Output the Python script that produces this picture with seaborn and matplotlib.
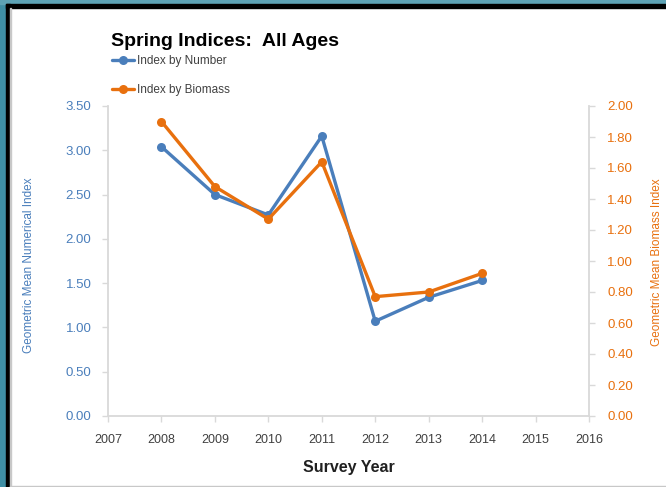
import matplotlib
matplotlib.use("Agg")
import matplotlib.pyplot as plt
import matplotlib.patches as mpatches
import seaborn as sns
import pandas as pd

years = [2008, 2009, 2010, 2011, 2012, 2013, 2014]
index_by_number = [3.04, 2.50, 2.27, 3.16, 1.07, 1.34, 1.53]
index_by_biomass = [1.90, 1.48, 1.27, 1.64, 0.77, 0.80, 0.92]
x_ticks = list(range(2007, 2017))
x_tick_labels = ["2007", "2008", "2009", "2010", "2011", "2012", "2013", "2014", "2015", "2016"]
left_ticks = [0.0, 0.5, 1.0, 1.5, 2.0, 2.5, 3.0, 3.5]
right_ticks = [0.0, 0.2, 0.4, 0.6, 0.8, 1.0, 1.2, 1.4, 1.6, 1.8, 2.0]

sns.set_theme(style="white")
plt.rcParams['font.family'] = ['Liberation Sans', 'DejaVu Sans']

BLUE = "#4a7ebb"
ORANGE = "#e8700e"
GRID = "#d9d9d9"

df = pd.DataFrame({"year": years, "number": index_by_number, "biomass": index_by_biomass})

fig = plt.figure(figsize=(6.66, 4.87), dpi=100)
fig.patch.set_facecolor("white")

# frame decorations
fig.patches.append(mpatches.Rectangle((0, 0), 6/666, 1, transform=fig.transFigure, color="#3f8fa5", zorder=0))
fig.patches.append(mpatches.Rectangle((0, 1-4/487), 1, 4/487, transform=fig.transFigure, color="#5ea3b5", zorder=0))
fig.patches.append(mpatches.Rectangle((6/666, 0), 4/666, 1-4/487, transform=fig.transFigure, color="black", zorder=0))
fig.patches.append(mpatches.Rectangle((6/666, 1-8/487), 1, 4/487, transform=fig.transFigure, color="black", zorder=0))
fig.patches.append(mpatches.Rectangle((10/666, 0), 1.2/666, 1-8/487, transform=fig.transFigure, color="#c8c8c8", zorder=0))
fig.patches.append(mpatches.Rectangle((10/666, 0), 1, 1.5/487, transform=fig.transFigure, color="#c8c8c8", zorder=0))

ax = fig.add_axes([108/666, 1-416/487, (589-108)/666, (416-106)/487])
ax2 = ax.twinx()

sns.lineplot(data=df, x="year", y="number", ax=ax, color=BLUE, marker="o",
             markersize=6.5, linewidth=2.4, markeredgewidth=0, label="Index by Number", legend=False)
sns.lineplot(data=df, x="year", y="biomass", ax=ax2, color=ORANGE, marker="o",
             markersize=6.5, linewidth=2.4, markeredgewidth=0, label="Index by Biomass", legend=False)

ax.set_xlim(2007, 2016)
ax.set_ylim(0, 3.5)
ax2.set_ylim(0, 2.0)
ax.set_xticks(x_ticks)
ax.set_xticklabels(x_tick_labels)
ax.set_yticks(left_ticks)
ax.set_yticklabels([f"{v:.2f}" for v in left_ticks])
ax2.set_yticks(right_ticks)
ax2.set_yticklabels([f"{v:.2f}" for v in right_ticks])

for a in (ax, ax2):
    a.set_facecolor("none")
    for s in a.spines.values():
        s.set_visible(False)
ax.spines["left"].set_visible(True)
ax.spines["bottom"].set_visible(True)
ax2.spines["right"].set_visible(True)
for s in (ax.spines["left"], ax.spines["bottom"], ax2.spines["right"]):
    s.set_color(GRID)
    s.set_linewidth(1.3)

ax.tick_params(axis="y", colors=GRID, labelcolor=BLUE, labelsize=9.5, length=4, width=1, pad=8, left=True)
ax.tick_params(axis="x", colors=GRID, labelcolor="#404040", labelsize=9, length=4, width=1, pad=9, bottom=True)
ax2.tick_params(axis="y", colors=GRID, labelcolor=ORANGE, labelsize=9.5, length=4, width=1, pad=9, right=True)

ax.set_xlabel("Survey Year", fontsize=11.5, fontweight="bold", color="#202020", labelpad=10)
ax.set_ylabel("")
ax2.set_ylabel("")
fig.text(29/666, 1-265/487, "Geometric Mean Numerical Index", rotation=90, color=BLUE,
         fontsize=8.5, ha="center", va="center")
fig.text(657/666, 1-262/487, "Geometric Mean Biomass Index", rotation=90, color=ORANGE,
         fontsize=8.5, ha="center", va="center")

fig.text(111/666, 1-41/487, "Spring Indices:  All Ages", fontsize=14, fontweight="bold",
         color="black", ha="left", va="center")

h1, l1 = ax.get_legend_handles_labels()
h2, l2 = ax2.get_legend_handles_labels()
leg = fig.legend(h1 + h2, l1 + l2, loc="upper left", bbox_to_anchor=(112/666, 1-55/487),
                 frameon=False, fontsize=8.5, labelspacing=1.45, handlelength=1.9,
                 handletextpad=0.2, borderaxespad=0, borderpad=0)
for t in leg.get_texts():
    t.set_color("#404040")

fig.savefig("out.png", dpi=100, facecolor="white")
